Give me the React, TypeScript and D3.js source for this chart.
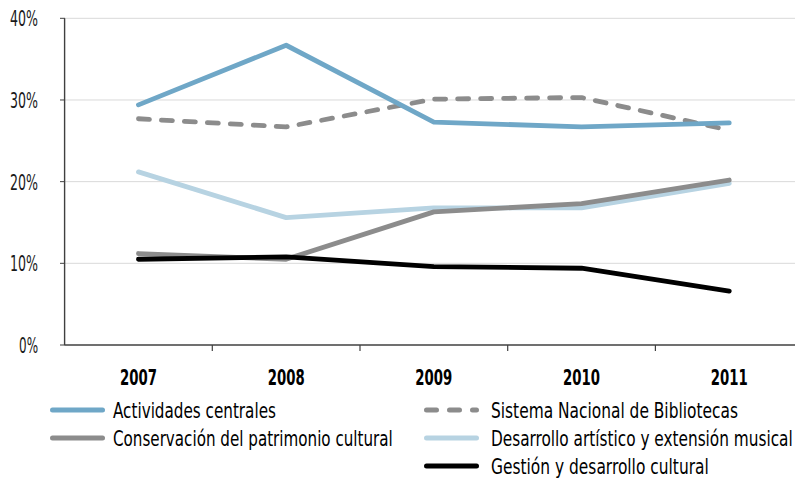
import React, { useLayoutEffect, useRef, useState } from "react";
import * as d3 from "d3";

const years = ["2007", "2008", "2009", "2010", "2011"];
const yTicks = [0, 10, 20, 30, 40];
const actividades = [29.4, 36.7, 27.3, 26.7, 27.2];
const sistema = [27.7, 26.7, 30.1, 30.3, 26.3];
const conservacion = [11.2, 10.5, 16.3, 17.3, 20.2];
const desarrollo = [21.2, 15.6, 16.8, 16.8, 19.8];
const gestion = [10.5, 10.8, 9.6, 9.4, 6.6];

const seriesNames = [
  "Actividades centrales",
  "Sistema Nacional de Bibliotecas",
  "Conservación del patrimonio cultural",
  "Desarrollo artístico y extensión musical",
  "Gestión y desarrollo cultural",
];

// layout (not data)
const legendPos = [
  { x: 50, tx: 113, y: 410, w: 163 },
  { x: 424, tx: 491, y: 410, w: 247 },
  { x: 50, tx: 113, y: 438, w: 280 },
  { x: 424, tx: 491, y: 438, w: 302 },
  { x: 424, tx: 491, y: 466, w: 218 },
];

const font = "'DejaVu Sans Condensed', 'DejaVu Sans', sans-serif";

function FitText(props: {
  x: number; y: number; width: number; anchor?: string; size: number; weight?: string; fill?: string; children: string;
}) {
  const ref = useRef<SVGTextElement>(null);
  const [k, setK] = useState(1);
  useLayoutEffect(() => {
    if (ref.current) {
      const len = ref.current.getComputedTextLength();
      if (len > 0) setK(props.width / len);
    }
  }, [props.width, props.children]);
  return (
    <g transform={`translate(${props.x},${props.y})`}>
      <text ref={ref} transform={`scale(${k},1)`} dy="0.36em" textAnchor={props.anchor || "start"}
        fontFamily={font} fontSize={props.size} fontWeight={props.weight || "normal"} fill={props.fill || "#000"}>
        {props.children}
      </text>
    </g>
  );
}

export default function App() {
  const W = 795, H = 478;
  const x = d3.scaleBand<string>().domain(years).range([64.6, 64.6 + 5 * 147.7]);
  const y = d3.scaleLinear().domain([0, 40]).range([345, 18.3]);
  const cx = (yr: string) => (x(yr) as number) + x.bandwidth() / 2;
  const line = d3.line<number>()
    .x((_, i) => cx(years[i]))
    .y((d) => y(d));

  const series = [
    { name: seriesNames[0], values: actividades, color: "#6fa7c7", dash: "" },
    { name: seriesNames[1], values: sistema, color: "#8c8c8c", dash: "11 12" },
    { name: seriesNames[2], values: conservacion, color: "#8c8c8c", dash: "" },
    { name: seriesNames[3], values: desarrollo, color: "#b7d3e2", dash: "" },
    { name: seriesNames[4], values: gestion, color: "#000000", dash: "" },
  ];
  const drawOrder = [3, 2, 4, 1, 0];

  return (
    <svg width={W} height={H} style={{ position: "absolute", left: 0, top: 0, background: "#fff" }}>
      {yTicks.filter((t) => t > 0).map((t) => (
        <line key={t} x1={65} x2={W} y1={y(t)} y2={y(t)} stroke="#d9d9d9" strokeWidth={1} />
      ))}
      {yTicks.map((t) => (
        <g key={"yt" + t}>
          <line x1={60} x2={65} y1={y(t)} y2={y(t)} stroke="#404040" strokeWidth={1} />
          <FitText x={38} y={y(t)} anchor="end" size={22} fill="#1a1a1a" width={t === 0 ? 19 : 28}>
            {`${t}%`}
          </FitText>
        </g>
      ))}
      <line x1={64.6} x2={64.6} y1={y(40)} y2={y(0)} stroke="#404040" strokeWidth={1.4} />
      <line x1={64.6} x2={W} y1={y(0)} y2={y(0)} stroke="#404040" strokeWidth={1.4} />
      {years.map((yr, i) =>
        i > 0 ? (
          <line key={"xt" + yr} x1={x(yr)} x2={x(yr)} y1={345} y2={351} stroke="#404040" strokeWidth={1.2} />
        ) : null
      )}
      {years.map((yr) => (
        <FitText key={"xl" + yr} x={cx(yr)} y={377} anchor="middle" size={22} weight="bold" width={37}>
          {yr}
        </FitText>
      ))}
      {drawOrder.map((k) => {
        const s = series[k];
        return (
          <path key={s.name} d={line(s.values) || ""} fill="none" stroke={s.color} strokeWidth={4.8}
            strokeDasharray={s.dash || undefined} strokeLinecap="round" strokeLinejoin="round" />
        );
      })}
      {series.map((s, i) => (
        <g key={"lg" + i}>
          <line x1={legendPos[i].x + 2.5} x2={legendPos[i].x + 52.5} y1={legendPos[i].y} y2={legendPos[i].y}
            stroke={s.color} strokeWidth={5}
            strokeDasharray={s.dash ? "10 13" : undefined} strokeLinecap="round" />
          <FitText x={legendPos[i].tx} y={legendPos[i].y} size={22} width={legendPos[i].w}>{s.name}</FitText>
        </g>
      ))}
    </svg>
  );
}
